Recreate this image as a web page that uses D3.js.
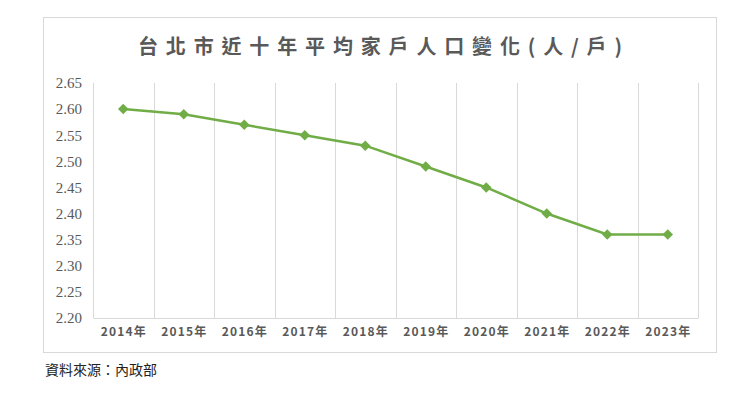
<!DOCTYPE html>
<html>
<head>
<meta charset="utf-8">
<script src="https://cdn.jsdelivr.net/npm/d3@7"></script>
<style>
  body { margin: 0; background: #fff; }
</style>
</head>
<body>
<div id="chart"></div>
<script>
// data
var years = ["2014年", "2015年", "2016年", "2017年", "2018年", "2019年", "2020年", "2021年", "2022年", "2023年"];
var avgPerHousehold = [2.60, 2.59, 2.57, 2.55, 2.53, 2.49, 2.45, 2.40, 2.36, 2.36];
var yTicks = [2.20, 2.25, 2.30, 2.35, 2.40, 2.45, 2.50, 2.55, 2.60, 2.65];
var title = "台北市近十年平均家戶人口變化(人/戶)";
var source = "資料來源：內政部";

const width = 750, height = 410;
const margin = {top: 83, right: 52, bottom: 92, left: 93};
var innerWidth = width - margin.left - margin.right;
var innerHeight = height - margin.top - margin.bottom;
var cjk = "'Noto Sans CJK TC', 'Noto Sans', sans-serif";

var svg = d3.select("#chart").append("svg")
    .attr("width", width)
    .attr("height", height);

// chart frame
svg.append("rect")
    .attr("x", 43.5).attr("y", 17.5)
    .attr("width", 673).attr("height", 335)
    .attr("fill", "#fff")
    .attr("stroke", "#d9d9d9");

svg.append("text")
    .attr("x", 380).attr("y", 54)
    .attr("text-anchor", "middle")
    .attr("font-family", cjk)
    .attr("font-size", 20)
    .attr("font-weight", "bold")
    .attr("textLength", 484)
    .attr("lengthAdjust", "spacing")
    .attr("fill", "#595959")
    .text(title);

var xScale = d3.scaleBand()
    .domain(years)
    .range([0, innerWidth]);

var yScale = d3.scaleLinear()
    .domain([2.20, 2.65])
    .range([innerHeight, 0]);

var g = svg.append("g")
    .attr("transform", "translate(" + margin.left + "," + margin.top + ")");

// vertical grid lines at category borders
var borders = years.map(d => xScale(d)).concat([innerWidth]);
g.append("g").selectAll("line")
    .data(borders)
    .enter().append("line")
    .attr("x1", d => Math.round(d) + 0.5)
    .attr("x2", d => Math.round(d) + 0.5)
    .attr("y1", 0)
    .attr("y2", innerHeight)
    .attr("stroke", "#d9d9d9");

var xAxis = d3.axisBottom(xScale).tickSize(0).tickPadding(9);
var gx = g.append("g")
    .attr("transform", "translate(0," + innerHeight + ")")
    .call(xAxis)
    .attr("font-family", cjk)
    .attr("font-size", 12);
gx.select(".domain").attr("stroke", "#d9d9d9");
gx.selectAll("text")
    .attr("font-weight", "bold")
    .attr("textLength", 45)
    .attr("lengthAdjust", "spacing")
    .attr("fill", "#595959");

var yAxis = d3.axisLeft(yScale)
    .tickValues(yTicks)
    .tickFormat(d3.format(".2f"))
    .tickSize(0)
    .tickPadding(11);
var gy = g.append("g")
    .call(yAxis)
    .attr("font-family", "'Liberation Serif', serif")
    .attr("font-size", 15);
gy.select(".domain").remove();
gy.selectAll("text")
    .attr("fill", "#595959");

var line = d3.line()
    .x((d, i) => xScale(years[i]) + xScale.bandwidth() / 2)
    .y(d => yScale(d));

g.append("path")
    .datum(avgPerHousehold)
    .attr("fill", "none")
    .attr("stroke", "#70ad47")
    .attr("stroke-width", 2.5)
    .attr("d", line);

g.append("g").selectAll("path")
    .data(avgPerHousehold)
    .enter().append("path")
    .attr("d", d3.symbol().type(d3.symbolDiamond2).size(70))
    .attr("transform", (d, i) => "translate(" + (xScale(years[i]) + xScale.bandwidth() / 2) + "," + yScale(d) + ")")
    .attr("fill", "#70ad47");

svg.append("text")
    .attr("x", 45).attr("y", 375)
    .attr("font-family", cjk)
    .attr("font-size", 14)
    .attr("fill", "#222")
    .text(source);
</script>
</body>
</html>
